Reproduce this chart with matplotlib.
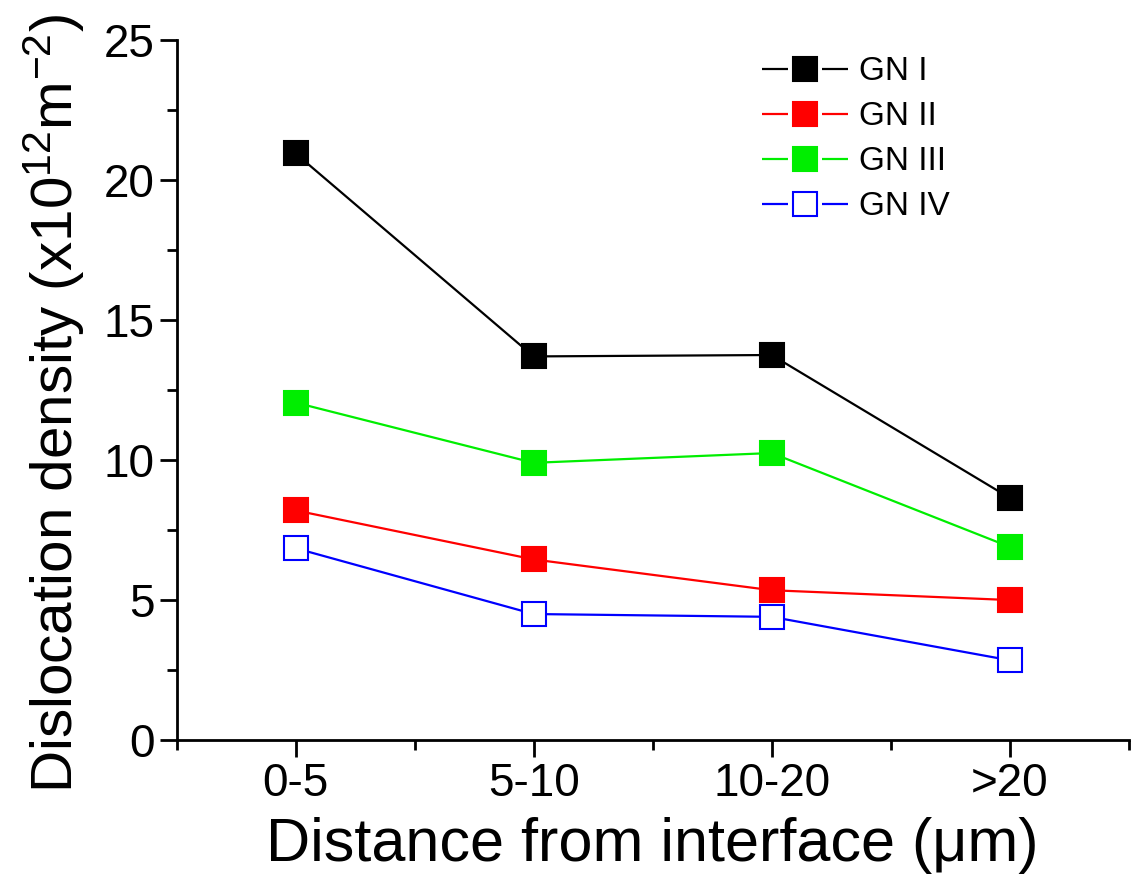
"""Dislocation density vs distance from interface."""

import matplotlib.pyplot as plt
from matplotlib.lines import Line2D
from matplotlib.legend_handler import HandlerTuple
from matplotlib.ticker import MultipleLocator, FixedLocator

plt.rcParams["font.family"] = ["Liberation Sans", "DejaVu Sans"]
plt.rcParams["mathtext.fontset"] = "custom"
plt.rcParams["mathtext.rm"] = "Liberation Sans"
plt.rcParams["mathtext.it"] = "Liberation Sans:italic"
plt.rcParams["mathtext.bf"] = "Liberation Sans:bold"

categories = ["0-5", "5-10", "10-20", ">20"]
gn1 = [20.95, 13.7, 13.75, 8.65]
gn2 = [8.2, 6.45, 5.35, 5.0]
gn3 = [12.05, 9.9, 10.25, 6.9]
gn4 = [6.85, 4.5, 4.4, 2.85]

series = [
    ("GN I", gn1, "black", "black"),
    ("GN II", gn2, "red", "red"),
    ("GN III", gn3, "#00ee00", "#00ee00"),
    ("GN IV", gn4, "blue", "white"),
]

fig = plt.figure(figsize=(11.32, 8.81), dpi=100)
ax = fig.add_axes([0.156, 0.160, 0.841, 0.7946])

x = list(range(len(categories)))
handles, labels = [], []
for name, vals, color, face in series:
    ax.plot(x, vals, color=color, lw=1.6, marker="s", ms=17,
            mfc=face, mec=color, mew=1.5)
    # legend: line broken around the marker
    seg = Line2D([], [], color=color, lw=1.6, dashes=(11.7, 15.3))
    mk = Line2D([], [], ls="none", marker="s", ms=17, mfc=face, mec=color, mew=1.5)
    handles.append((seg, mk))
    labels.append(name)

ax.set_xlim(-0.5, 3.5)
ax.set_ylim(0, 25)
ax.set_xticks(x)
ax.set_xticklabels(categories)
ax.xaxis.set_minor_locator(FixedLocator([-0.5, 0.5, 1.5, 2.5, 3.5]))
ax.yaxis.set_major_locator(MultipleLocator(5))
ax.yaxis.set_minor_locator(MultipleLocator(2.5))

for side in ("top", "right"):
    ax.spines[side].set_visible(False)
for side in ("left", "bottom"):
    ax.spines[side].set_linewidth(2)
ax.tick_params(which="major", direction="out", length=12, width=2, labelsize=33, pad=4)
ax.tick_params(which="minor", direction="out", length=7, width=2)

ax.set_xlabel("Distance from interface (\u03bcm)", fontsize=44, labelpad=8)
ax.set_ylabel("Dislocation density (x10$^{12}$m$^{-2}$)", fontsize=42)
ax.yaxis.set_label_coords(-0.094, 0.48)

fig.legend(handles, labels, handler_map={tuple: HandlerTuple(ndivide=1)},
           loc="upper left", bbox_to_anchor=(0.673, 0.936), frameon=False,
           borderaxespad=0, borderpad=0,
           fontsize=24, handlelength=2.6, handletextpad=0.3, labelspacing=0.42)

fig.savefig("out.png", dpi=100)
